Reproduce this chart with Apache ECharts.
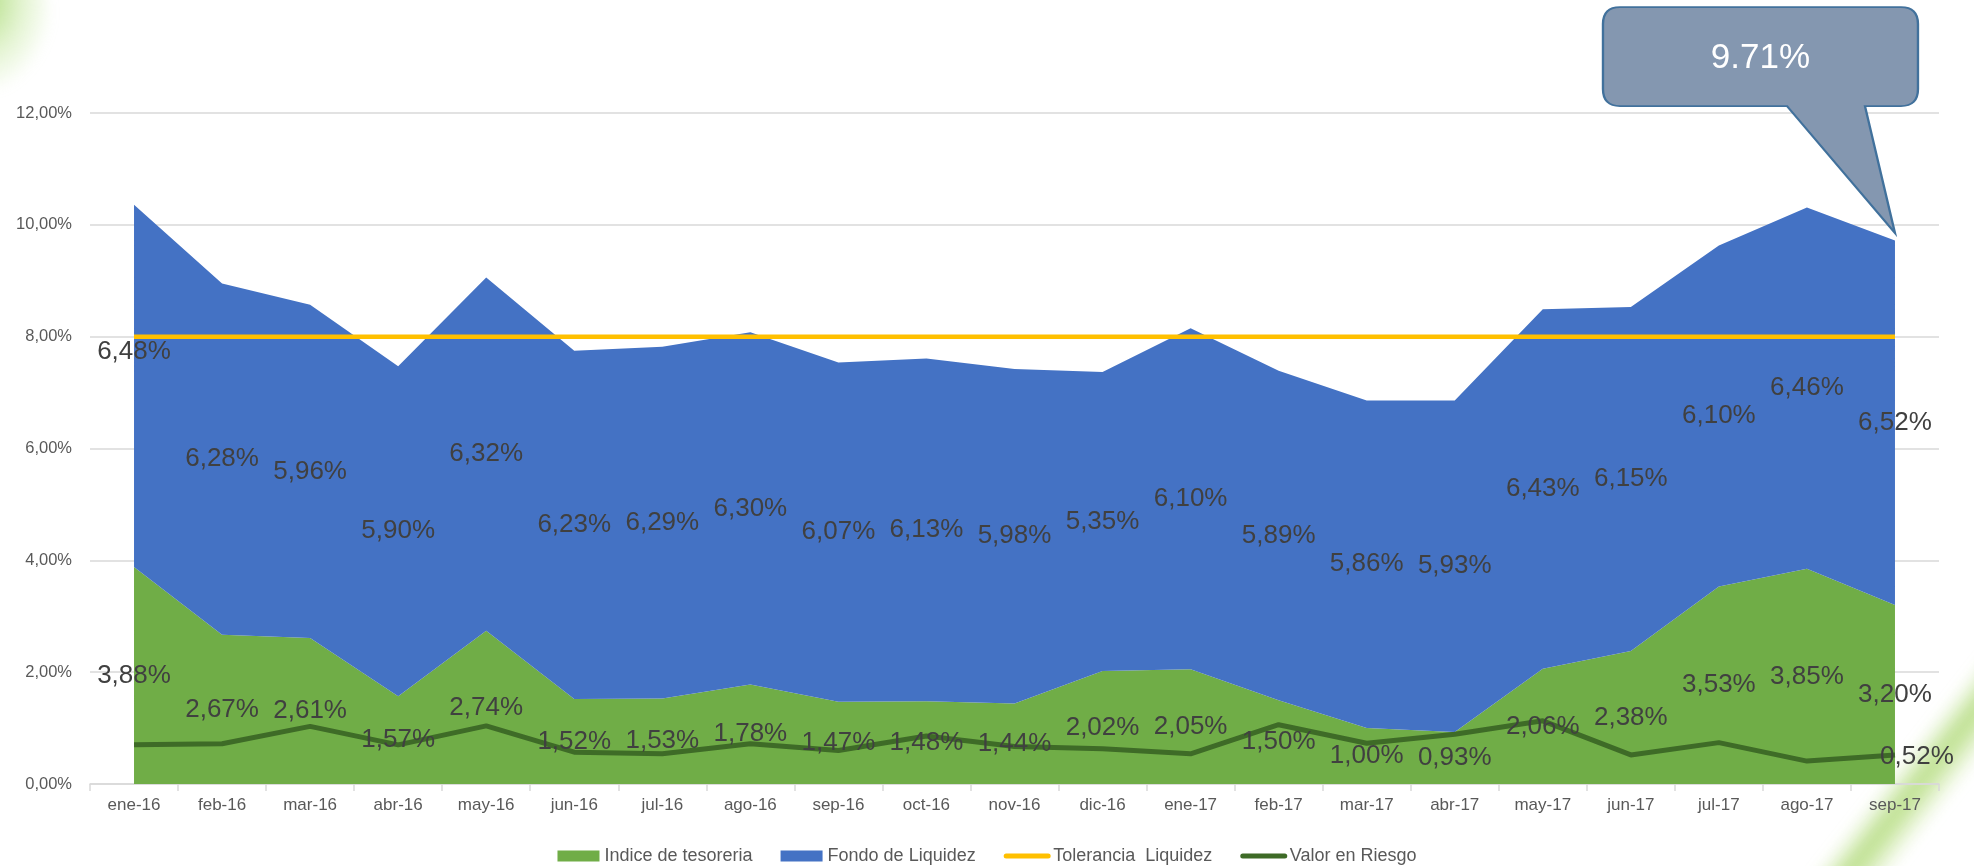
<!DOCTYPE html>
<html>
<head>
<meta charset="utf-8">
<script src="https://cdn.jsdelivr.net/npm/echarts@6/dist/echarts.min.js"></script>
<style>
  html, body { margin: 0; padding: 0; background: #ffffff; overflow: hidden; }
  #wrap { position: relative; width: 1974px; height: 866px; overflow: hidden; }
  .deco { position: absolute; pointer-events: none; }
  #tl { left: -60px; top: -50px; width: 110px; height: 140px; border-radius: 50%;
        background: radial-gradient(ellipse at 35% 35%, rgba(146,208,80,0.75) 0%, rgba(180,225,130,0.35) 45%, rgba(255,255,255,0) 75%); filter: blur(6px); }
  #br { left: 1895px; top: 560px; width: 60px; height: 440px; transform: rotate(38deg);
        background: linear-gradient(90deg, rgba(255,255,255,0) 0%, rgba(170,215,110,0.8) 45%, rgba(190,225,140,0.55) 70%, rgba(255,255,255,0) 100%); filter: blur(7px); }
  #chart { position: absolute; left: 0; top: 0; width: 1974px; height: 866px; }
</style>
</head>
<body>
<div id="wrap">
  <div class="deco" id="tl"></div>
  <div class="deco" id="br"></div>
  <div id="chart"></div>
</div>
<script>
// ---- data ----
const categories = ['ene-16','feb-16','mar-16','abr-16','may-16','jun-16','jul-16','ago-16','sep-16','oct-16','nov-16','dic-16',
                    'ene-17','feb-17','mar-17','abr-17','may-17','jun-17','jul-17','ago-17','sep-17'];
const indiceTesoreria = [3.88, 2.67, 2.61, 1.57, 2.74, 1.52, 1.53, 1.78, 1.47, 1.48, 1.44, 2.02, 2.05, 1.50, 1.00, 0.93, 2.06, 2.38, 3.53, 3.85, 3.20];
const fondoLiquidez   = [6.48, 6.28, 5.96, 5.90, 6.32, 6.23, 6.29, 6.30, 6.07, 6.13, 5.98, 5.35, 6.10, 5.89, 5.86, 5.93, 6.43, 6.15, 6.10, 6.46, 6.52];
const toleranciaLiquidez = [8, 8, 8, 8, 8, 8, 8, 8, 8, 8, 8, 8, 8, 8, 8, 8, 8, 8, 8, 8, 8];
const valorEnRiesgo   = [0.70, 0.72, 1.03, 0.70, 1.04, 0.57, 0.54, 0.72, 0.60, 0.86, 0.67, 0.63, 0.54, 1.06, 0.73, 0.89, 1.13, 0.52, 0.74, 0.41, 0.52];
const yTicks = [0, 2, 4, 6, 8, 10, 12];
const calloutValue = 9.71;
const calloutText = '9.71%';

const seriesNames = ['Indice de tesoreria', 'Fondo de Liquidez', 'Tolerancia  Liquidez', 'Valor en Riesgo'];
const fmt = v => v.toFixed(2).replace('.', ',') + '%';

const labelFont = { fontFamily: 'Liberation Sans', fontSize: 26, color: '#404040' };
const clear = 'rgba(0,0,0,0)';

// label anchors: middle of each stacked band
const greenMid = indiceTesoreria.map(g => ({ value: g / 2, raw: g }));
const blueMid = fondoLiquidez.map((b, i) => {
  const item = { value: indiceTesoreria[i] + b / 2, raw: b };
  if (i === 0) item.label = { offset: [0, -34] };
  return item;
});
const lastIdx = categories.length - 1;

const chart = echarts.init(document.getElementById('chart'), null, { renderer: 'canvas' });
chart.setOption({
  animation: false,
  backgroundColor: 'transparent',
  grid: { left: 90, right: 35, top: 113, bottom: 82, containLabel: false },
  legend: {
    data: [
      { name: seriesNames[0], icon: 'rect' },
      { name: seriesNames[1], icon: 'rect' },
      { name: seriesNames[2], itemStyle: { opacity: 0 }, lineStyle: { width: 5, color: '#FFC000', cap: 'round' } },
      { name: seriesNames[3], itemStyle: { opacity: 0 }, lineStyle: { width: 5, color: '#3E6B27', cap: 'round' } }
    ],
    top: 842, left: 'center',
    itemWidth: 42, itemHeight: 11, itemGap: 28,
    textStyle: { fontFamily: 'Liberation Sans', fontSize: 18, color: '#595959' }
  },
  xAxis: {
    type: 'category', data: categories, boundaryGap: true,
    axisLine: { lineStyle: { color: '#d9d9d9', width: 1.5 } },
    axisTick: { show: true, length: 7, lineStyle: { color: '#d9d9d9', width: 1.5 } },
    axisLabel: { fontFamily: 'Liberation Sans', fontSize: 17, color: '#595959', margin: 13, interval: 0 },
    splitLine: { show: false }
  },
  yAxis: {
    type: 'value', min: yTicks[0], max: yTicks[yTicks.length - 1], interval: yTicks[1] - yTicks[0],
    axisLine: { show: false }, axisTick: { show: false },
    axisLabel: { fontFamily: 'Liberation Sans', fontSize: 16.5, color: '#595959', margin: 18, formatter: v => fmt(v) },
    splitLine: { lineStyle: { color: '#d9d9d9', width: 1.5 } }
  },
  series: [
    {
      name: seriesNames[0], type: 'line', stack: 'total', data: indiceTesoreria,
      symbol: 'none', lineStyle: { width: 0 }, itemStyle: { color: '#70AD47' },
      areaStyle: { color: '#70AD47', opacity: 1 }, z: 1
    },
    {
      name: seriesNames[1], type: 'line', stack: 'total', data: fondoLiquidez,
      symbol: 'none', lineStyle: { width: 0 }, itemStyle: { color: '#4472C4' },
      areaStyle: { color: '#4472C4', opacity: 1 }, z: 1
    },
    {
      name: seriesNames[2], type: 'line', data: toleranciaLiquidez,
      symbol: 'none', lineStyle: { width: 4.5, color: '#FFC000' }, itemStyle: { color: '#FFC000' }, z: 3,
      markPoint: {
        z: 10,
        symbol: 'path://M17,0 L298,0 Q315,0 315,17 L315,82 Q315,99 298,99 L262,99 L292,226 L184,99 L17,99 Q0,99 0,82 L0,17 Q0,0 17,0 Z',
        symbolSize: [315, 226],
        symbolKeepAspect: false,
        symbolOffset: [-134.5, -121],
        itemStyle: { color: '#8497B0', borderColor: '#41719C', borderWidth: 2 },
        label: { show: true, position: 'inside', offset: [0, -62], formatter: calloutText,
                 fontFamily: 'Liberation Sans', fontSize: 35, color: '#ffffff' },
        emphasis: { disabled: true },
        data: [{ coord: [categories[lastIdx], calloutValue] }]
      }
    },
    {
      name: seriesNames[3], type: 'line',
      data: valorEnRiesgo.map((v, i) => i === lastIdx
        ? { value: v, label: { show: true, position: 'inside', offset: [22, 2], formatter: p => fmt(p.value), ...labelFont } }
        : v),
      symbol: 'circle', symbolSize: 1, showSymbol: true, showAllSymbol: true,
      lineStyle: { width: 5, color: '#3E6B27' }, itemStyle: { color: clear, borderWidth: 0 }, z: 4
    },
    {
      name: '_lblGreen', type: 'line', data: greenMid, symbol: 'circle', symbolSize: 1,
      showSymbol: true, showAllSymbol: true, silent: true,
      lineStyle: { opacity: 0, width: 0 }, itemStyle: { color: clear, borderWidth: 0 }, z: 6,
      label: { show: true, position: 'inside', formatter: p => fmt(p.data.raw), ...labelFont }
    },
    {
      name: '_lblBlue', type: 'line', data: blueMid, symbol: 'circle', symbolSize: 1,
      showSymbol: true, showAllSymbol: true, silent: true,
      lineStyle: { opacity: 0, width: 0 }, itemStyle: { color: clear, borderWidth: 0 }, z: 6,
      label: { show: true, position: 'inside', formatter: p => fmt(p.data.raw), ...labelFont }
    }
  ]
});
</script>
</body>
</html>
